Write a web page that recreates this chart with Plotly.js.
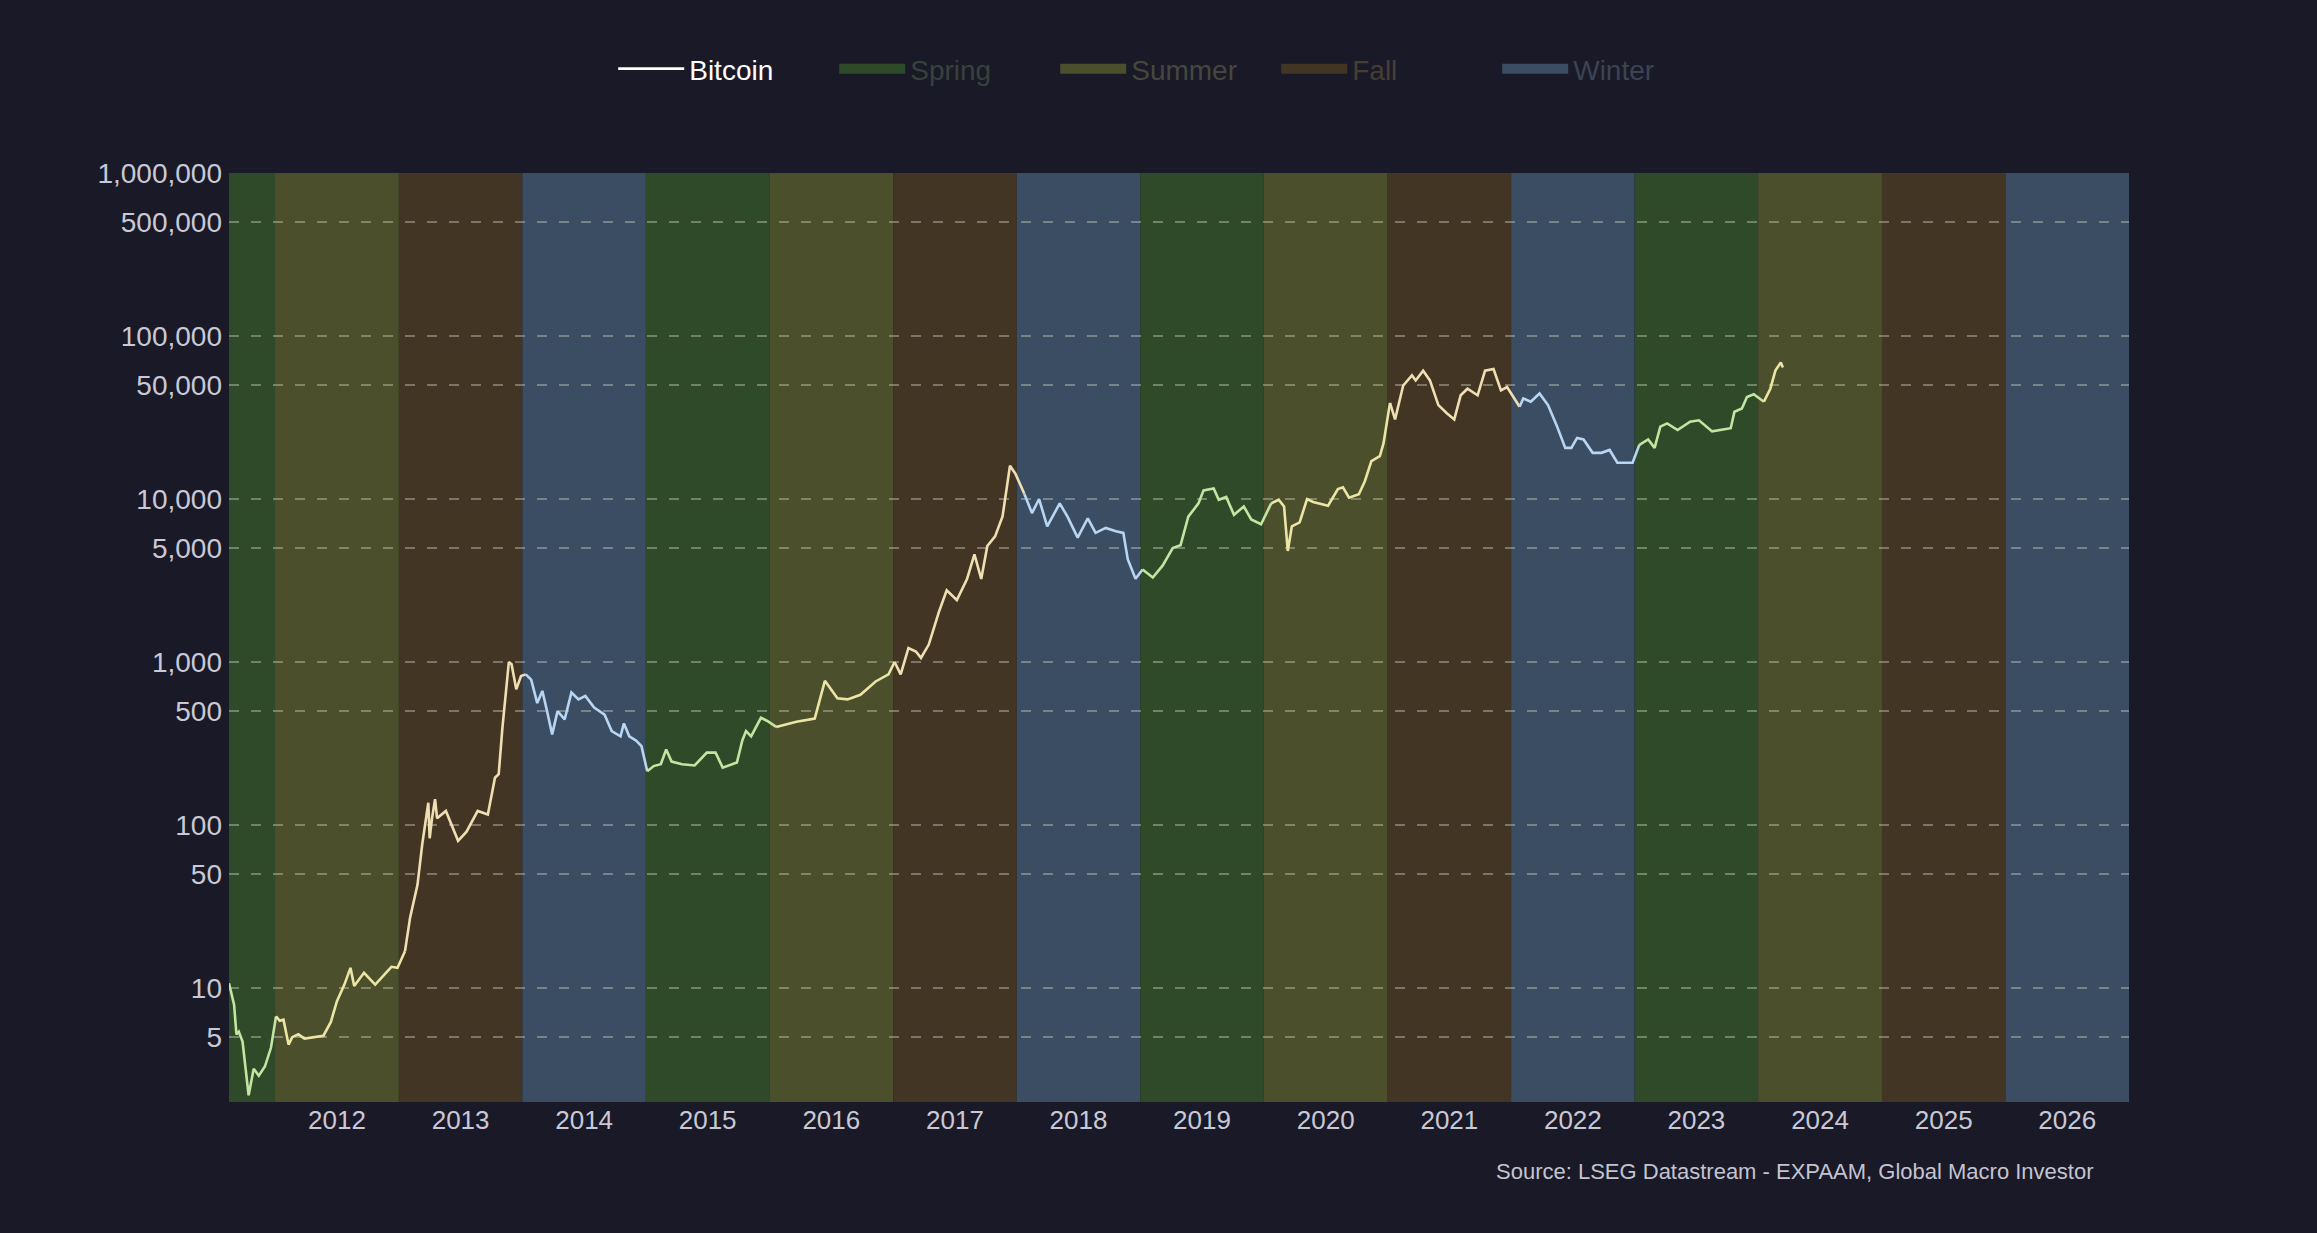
<!DOCTYPE html>
<html>
<head>
<meta charset="utf-8">
<script src="https://cdn.plot.ly/plotly-3.0.1.min.js"></script>
<style>
html,body{margin:0;padding:0;background:#1a1928;}
#chart{width:2317px;height:1233px;}
</style>
</head>
<body>
<div id="chart"></div>
<script>
// ---- Data ----
const dates = [
"2011-08-18","2011-09-02","2011-09-09","2011-09-16","2011-09-27","2011-10-15","2011-10-30","2011-11-14","2011-12-02","2011-12-20",
"2012-01-04","2012-01-15","2012-01-26","2012-02-10","2012-02-21","2012-03-10","2012-03-28","2012-05-01","2012-05-23","2012-06-14",
"2012-07-02","2012-07-24","2012-08-11","2012-08-22","2012-09-20","2012-10-23","2012-11-18","2012-12-10","2012-12-28",
"2013-01-19","2013-02-03","2013-02-25","2013-03-11","2013-03-29","2013-04-02","2013-04-09","2013-04-18","2013-04-24","2013-05-20",
"2013-06-25","2013-07-20","2013-08-22","2013-09-21","2013-10-12","2013-10-23","2013-11-03","2013-11-22","2013-11-30","2013-12-14","2013-12-28",
"2014-01-11","2014-01-27","2014-02-14","2014-03-01","2014-03-14","2014-03-30","2014-04-15","2014-05-06","2014-05-26","2014-06-16",
"2014-07-06","2014-08-01","2014-09-01","2014-09-22","2014-10-18","2014-10-28","2014-11-13","2014-12-03","2014-12-19",
"2015-01-05","2015-01-24","2015-02-14","2015-03-02","2015-03-18","2015-04-18","2015-05-25","2015-06-30","2015-07-26","2015-08-16",
"2015-09-27","2015-10-13","2015-10-24","2015-11-08","2015-12-07","2015-12-26",
"2016-01-21","2016-03-21","2016-05-14","2016-06-13","2016-07-20","2016-08-19","2016-09-26","2016-11-10","2016-12-18",
"2017-01-05","2017-01-23","2017-02-15","2017-03-09","2017-03-24","2017-04-16","2017-05-16","2017-06-08","2017-07-08","2017-08-07",
"2017-08-29","2017-09-18","2017-10-06","2017-10-29","2017-11-20","2017-12-12","2017-12-28",
"2018-01-23","2018-02-15","2018-03-08","2018-04-01","2018-05-08","2018-05-31","2018-06-30","2018-07-30","2018-08-22","2018-09-21",
"2018-10-21","2018-11-12","2018-11-25","2018-12-18",
"2019-01-08","2019-02-07","2019-03-08","2019-04-07","2019-04-30","2019-05-23","2019-06-22","2019-07-07","2019-08-06","2019-08-21",
"2019-09-12","2019-10-05","2019-11-03","2019-11-25","2019-12-24",
"2020-01-23","2020-02-14","2020-03-01","2020-03-12","2020-03-24","2020-04-16","2020-05-08","2020-05-26","2020-07-09","2020-08-07",
"2020-08-22","2020-09-09","2020-10-08","2020-10-26","2020-11-14","2020-12-09","2020-12-20",
"2021-01-08","2021-01-23","2021-02-16","2021-03-14","2021-03-25","2021-04-16","2021-05-06","2021-05-31","2021-06-25","2021-07-17",
"2021-08-05","2021-08-25","2021-09-24","2021-10-16","2021-11-10","2021-12-02","2021-12-20",
"2022-01-26","2022-02-06","2022-02-28","2022-03-26","2022-04-20","2022-05-15","2022-06-10","2022-06-28","2022-07-15","2022-08-03",
"2022-08-30","2022-09-25","2022-10-19","2022-11-11","2022-12-07","2022-12-26",
"2023-01-15","2023-02-10","2023-03-01","2023-03-18","2023-04-07","2023-05-08","2023-06-14","2023-07-10","2023-08-18","2023-09-17",
"2023-10-12","2023-10-23","2023-11-14","2023-11-29","2023-12-19",
"2024-01-18","2024-02-06","2024-02-21","2024-03-08","2024-03-14"
];
const bitcoin = [
10.7,7.9,5.2,5.4,4.7,2.2,3.2,2.9,3.3,4.3,
6.7,6.3,6.4,4.5,5.0,5.2,4.9,5.0,5.1,6.2,
8.3,10.5,13.3,10.3,12.4,10.5,12.1,13.5,13.3,
16.8,26.9,43,76,137,83,110,144,110,122,
80,91,122,116,195,205,395,1000,970,680,820,
840,780,560,665,510,360,500,445,650,590,
620,525,475,377,350,420,350,330,305,
214,230,236,291,245,236,232,278,278,225,
242,330,377,350,455,435,
400,430,450,767,600,590,630,760,840,
1000,840,1220,1160,1060,1280,2030,2750,2400,3230,
4580,3230,5150,5900,7820,16000,14300,
10800,8200,10000,6800,9400,7800,5800,7620,6200,6650,
6350,6200,4270,3240,
3700,3300,3900,5000,5200,7800,9400,11300,11600,9900,
10300,8000,9000,7500,7000,
9400,9900,9000,4800,6800,7200,10000,9600,9100,11500,
11800,10200,10700,12900,17100,18300,22000,
38900,30800,49700,57300,53400,61300,53400,37700,33600,30800,
43300,47500,43300,61300,62800,46400,48600,
36800,41400,39500,44400,37700,28500,20600,20600,23700,23200,
19200,19200,20000,16700,16700,16700,
21500,23200,20600,27800,29100,26500,29800,30400,26000,26500,
27200,34300,35900,42300,43900,
39500,47500,61300,68900,64200
];
const seasonYears = [2011,2012,2013,2014,2015,2016,2017,2018,2019,2020,2021,2022,2023,2024,2025,2026];
const seasonNames = ["Spring","Summer","Fall","Winter","Spring","Summer","Fall","Winter","Spring","Summer","Fall","Winter","Spring","Summer","Fall","Winter"];
const legendOrder = ["Spring","Summer","Fall","Winter"];
const yTickVals = [5,10,50,100,500,1000,5000,10000,50000,100000,500000,1000000];
const yTickText = ["5","10","50","100","500","1,000","5,000","10,000","50,000","100,000","500,000","1,000,000"];
const sourceText = "Source: LSEG Datastream - EXPAAM, Global Macro Investor";

// ---- Styles ----
const bandColor = {Spring:"#2e4a29", Summer:"#4c4f2b", Fall:"#423524", Winter:"#3a4d62"};
const lineColor = {Spring:"#c3e5a2", Summer:"#ebe6a6", Fall:"#f0dfb3", Winter:"#b8d6f3"};
const legendTextColor = {Spring:"#37423a", Summer:"#46473c", Fall:"#463d35", Winter:"#3b4453"};
const tickColor = "#c9c9d6";
const fontFam = "Liberation Sans, Arial, sans-serif";

function seasonOf(d){
  const y = parseInt(d.slice(0,4),10);
  return seasonNames[seasonYears.indexOf(y)];
}

// legend entry for the series
const traces = [{
  type: "scatter", mode: "lines", x: [null], y: [null], name: "Bitcoin",
  line: {color: "#ffffff", width: 2.6}, legendgroup: "btc", showlegend: true, legendrank: 1
}];
// split the series into runs by season, each run joined to the next point
let start = 0;
for (let i = 1; i <= dates.length; i++) {
  if (i === dates.length || seasonOf(dates[i]) !== seasonOf(dates[start])) {
    const end = Math.min(i, dates.length - 1);
    const s = seasonOf(dates[start]);
    traces.push({
      type: "scatter", mode: "lines",
      x: dates.slice(start, end + 1),
      y: bitcoin.slice(start, end + 1),
      line: {color: lineColor[s], width: 2.6},
      showlegend: false, legendgroup: "btc", hoverinfo: "x+y"
    });
    start = i;
  }
}
// legend entries for the season bands
legendOrder.forEach((s, k) => {
  traces.push({
    type: "scatter", mode: "lines", x: [null], y: [null],
    name: '<span style="color:' + legendTextColor[s] + '">' + s + '</span>',
    line: {color: bandColor[s], width: 10}, legendgroup: s, showlegend: true, legendrank: 2 + k
  });
});

const shapes = seasonYears.map((yr, i) => {
  const s = seasonNames[i];
  return {
    type: "rect", xref: "x", yref: "paper",
    x0: yr + "-01-01", x1: (yr + 1) + "-01-01", y0: 0, y1: 1,
    fillcolor: bandColor[s], line: {width: 0}, layer: "below"
  };
});

const layout = {
  width: 2317, height: 1233,
  paper_bgcolor: "#1a1928", plot_bgcolor: "#1a1928",
  margin: {l: 229, r: 188, t: 173, b: 131},
  font: {family: fontFam, color: tickColor, size: 26},
  showlegend: true,
  legend: {
    orientation: "h", x: 0.493, y: 1.112, xanchor: "center", yanchor: "middle",
    font: {size: 28, color: "#ffffff", family: fontFam},
    bgcolor: "rgba(0,0,0,0)", itemwidth: 66, traceorder: "normal",
    entrywidth: 140, entrywidthmode: "pixels"
  },
  xaxis: {
    type: "date",
    range: ["2011-08-18", "2027-01-01"],
    dtick: "M12", tick0: "2011-01-01", tickformat: "%Y",
    ticklabelmode: "period",
    showgrid: false, zeroline: false, showline: false, ticks: "",
    tickfont: {size: 26, color: tickColor}
  },
  yaxis: {
    type: "log",
    range: [Math.log10(2), 6],
    tickvals: yTickVals, ticktext: yTickText,
    showgrid: true, gridcolor: "rgba(215,215,200,0.4)", gridwidth: 2, griddash: "10px,12px",
    zeroline: false, showline: false, ticks: "", ticklabelstandoff: 6,
    tickfont: {size: 28, color: tickColor}
  },
  shapes: shapes,
  annotations: [{
    xref: "paper", yref: "paper", x: 0.982, y: -0.075, xanchor: "right", yanchor: "middle",
    text: sourceText, showarrow: false, font: {size: 22, color: "#c4c4d0", family: fontFam}
  }]
};

Plotly.newPlot("chart", traces, layout, {displayModeBar: false, staticPlot: true});
</script>
</body>
</html>
